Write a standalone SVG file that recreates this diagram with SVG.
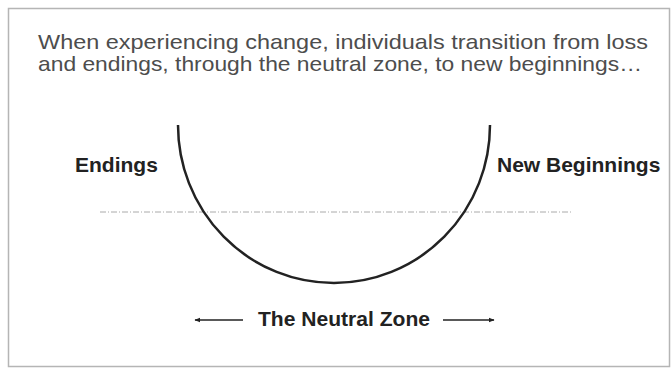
<svg xmlns="http://www.w3.org/2000/svg" width="672" height="369" viewBox="0 0 672 369">
<defs>
<style>
.title{font-family:"Liberation Sans",Arial,sans-serif;font-size:21px;fill:#4d4d4d}
.lbl{font-family:"Liberation Sans",Arial,sans-serif;font-size:21px;font-weight:bold;fill:#222}
.arr{stroke:#222;stroke-width:1.5;fill:none}
</style>
<marker id="ah" viewBox="0 0 10 10" refX="9" refY="5" markerWidth="6" markerHeight="6" orient="auto-start-reverse" markerUnits="userSpaceOnUse">
<path d="M0,1 L10,5 L0,9 z" fill="#222"/>
</marker>
</defs>
<rect x="0" y="0" width="672" height="369" fill="#fff"/>
<rect x="8.5" y="8.5" width="661" height="358" fill="#fff" stroke="#b5b5b5" stroke-width="1.5"/>
<g id="title">
<text class="title" x="38" y="49" textLength="610" lengthAdjust="spacingAndGlyphs">When experiencing change, individuals transition from loss</text>
<text class="title" x="38" y="71" textLength="604" lengthAdjust="spacingAndGlyphs">and endings, through the neutral zone, to new beginnings…</text>
</g>
<g id="connectors">
<line x1="100" y1="212" x2="572" y2="212" stroke="#aaa" stroke-width="1" stroke-dasharray="6,2,1,2"/>
<path id="curve" d="M178,125 A156,158 0 0 0 490,125" stroke="#222" stroke-width="2.5" fill="none"/>
<line class="arr" x1="243" y1="320" x2="195" y2="320" marker-end="url(#ah)"/>
<line class="arr" x1="443" y1="320" x2="494" y2="320" marker-end="url(#ah)"/>
</g>
<g id="endings"><text class="lbl" x="75" y="172">Endings</text></g>
<g id="newbeginnings"><text class="lbl" x="497" y="172">New Beginnings</text></g>
<g id="neutralzone"><text class="lbl" x="258" y="326" textLength="172" lengthAdjust="spacingAndGlyphs">The Neutral Zone</text></g>
</svg>
